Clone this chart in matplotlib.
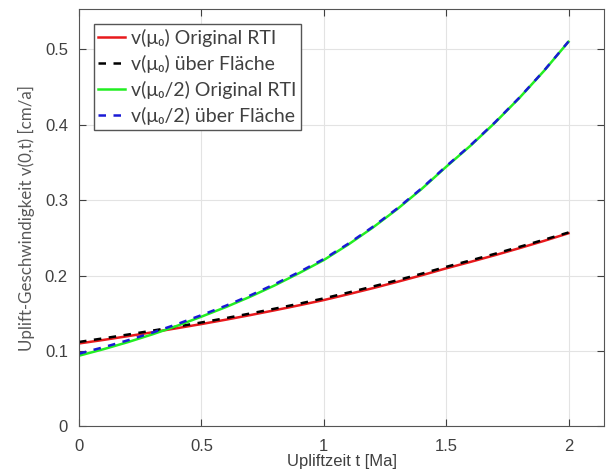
import matplotlib
matplotlib.use('Agg')
import matplotlib.pyplot as plt

# Upliftzeit t [Ma]
t = [0.0, 0.1, 0.2, 0.3, 0.4, 0.5, 0.6, 0.7, 0.8, 0.9, 1.0,
     1.1, 1.2, 1.3, 1.4, 1.5, 1.6, 1.7, 1.8, 1.9, 2.0]

# v(mu0) Original RTI
v_mu0_rti = [0.1100, 0.1147, 0.1197, 0.1248, 0.1302, 0.1357, 0.1415, 0.1476,
             0.1540, 0.1606, 0.1675, 0.1752, 0.1832, 0.1916, 0.2003, 0.2095,
             0.2181, 0.2270, 0.2363, 0.2459, 0.2560]
# v(mu0) ueber Flaeche
v_mu0_fl = [0.1120, 0.1168, 0.1218, 0.1270, 0.1323, 0.1378, 0.1436, 0.1497,
            0.1561, 0.1627, 0.1697, 0.1774, 0.1854, 0.1937, 0.2024, 0.2115,
            0.2200, 0.2288, 0.2380, 0.2474, 0.2570]
# v(mu0/2) Original RTI
v_mu02_rti = [0.0938, 0.1024, 0.1118, 0.1221, 0.1333, 0.1455, 0.1582, 0.1720,
              0.1870, 0.2033, 0.2205, 0.2410, 0.2634, 0.2879, 0.3147, 0.3440,
              0.3721, 0.4026, 0.4355, 0.4711, 0.5097]
# v(mu0/2) ueber Flaeche
v_mu02_fl = [0.0965, 0.1050, 0.1142, 0.1244, 0.1355, 0.1475, 0.1600, 0.1737,
             0.1886, 0.2047, 0.2218, 0.2421, 0.2644, 0.2888, 0.3155, 0.3447,
             0.3727, 0.4031, 0.4359, 0.4714, 0.5100]

labels = ['v(μ₀) Original RTI', 'v(μ₀) über Fläche',
          'v(μ₀/2) Original RTI', 'v(μ₀/2) über Fläche']

xticks = [0, 0.5, 1, 1.5, 2]
yticks = [0, 0.1, 0.2, 0.3, 0.4, 0.5]

plt.rcParams['font.family'] = ['Liberation Sans', 'DejaVu Sans']

fig = plt.figure(figsize=(6.08, 4.76), dpi=100)
ax = fig.add_axes([0.13, 0.104, 0.8634, 0.877])

ax.plot(t, v_mu0_rti, color='#e8191c', lw=1.8, label=labels[0])
ax.plot(t, v_mu0_fl, color='black', lw=1.8, ls=(0, (3, 3)), label=labels[1])
ax.plot(t, v_mu02_rti, color='#22ee22', lw=1.8, label=labels[2])
ax.plot(t, v_mu02_fl, color='#1a1ad6', lw=1.8, ls=(0, (3, 3)), label=labels[3])

ax.set_xlim(0, 2.145)
ax.set_ylim(0, 0.553)
ax.set_xticks(xticks)
ax.set_xticklabels(['0', '0.5', '1', '1.5', '2'])
ax.set_yticks(yticks)
ax.set_yticklabels(['0', '0.1', '0.2', '0.3', '0.4', '0.5'])
ax.grid(True, color='#e3e3e3', lw=0.8)
ax.set_axisbelow(True)
ax.tick_params(direction='in', length=5, colors='#404040', labelsize=12,
               top=True, right=True)
ax.tick_params(axis='x', pad=9)
ax.tick_params(axis='y', pad=8)
for s in ax.spines.values():
    s.set_color('#555555')
    s.set_linewidth(0.8)

ax.set_xlabel('Upliftzeit t [Ma]', fontsize=12, color='#404040', labelpad=0)
ax.set_ylabel('Uplift-Geschwindigkeit v(0,t) [cm/a]', fontsize=12.2,
              color='#595959', family=['Lato', 'DejaVu Sans'], labelpad=7)

leg = ax.legend(loc='upper left',
                prop={'family': ['Lato', 'DejaVu Sans'], 'size': 14},
                fancybox=False, framealpha=1, edgecolor='#555555',
                handlelength=1.35, handletextpad=0.3, labelspacing=0.42,
                borderpad=0.25, borderaxespad=0.75)
for txt in leg.get_texts():
    txt.set_color('#404040')

fig.savefig('out.png', dpi=100)
